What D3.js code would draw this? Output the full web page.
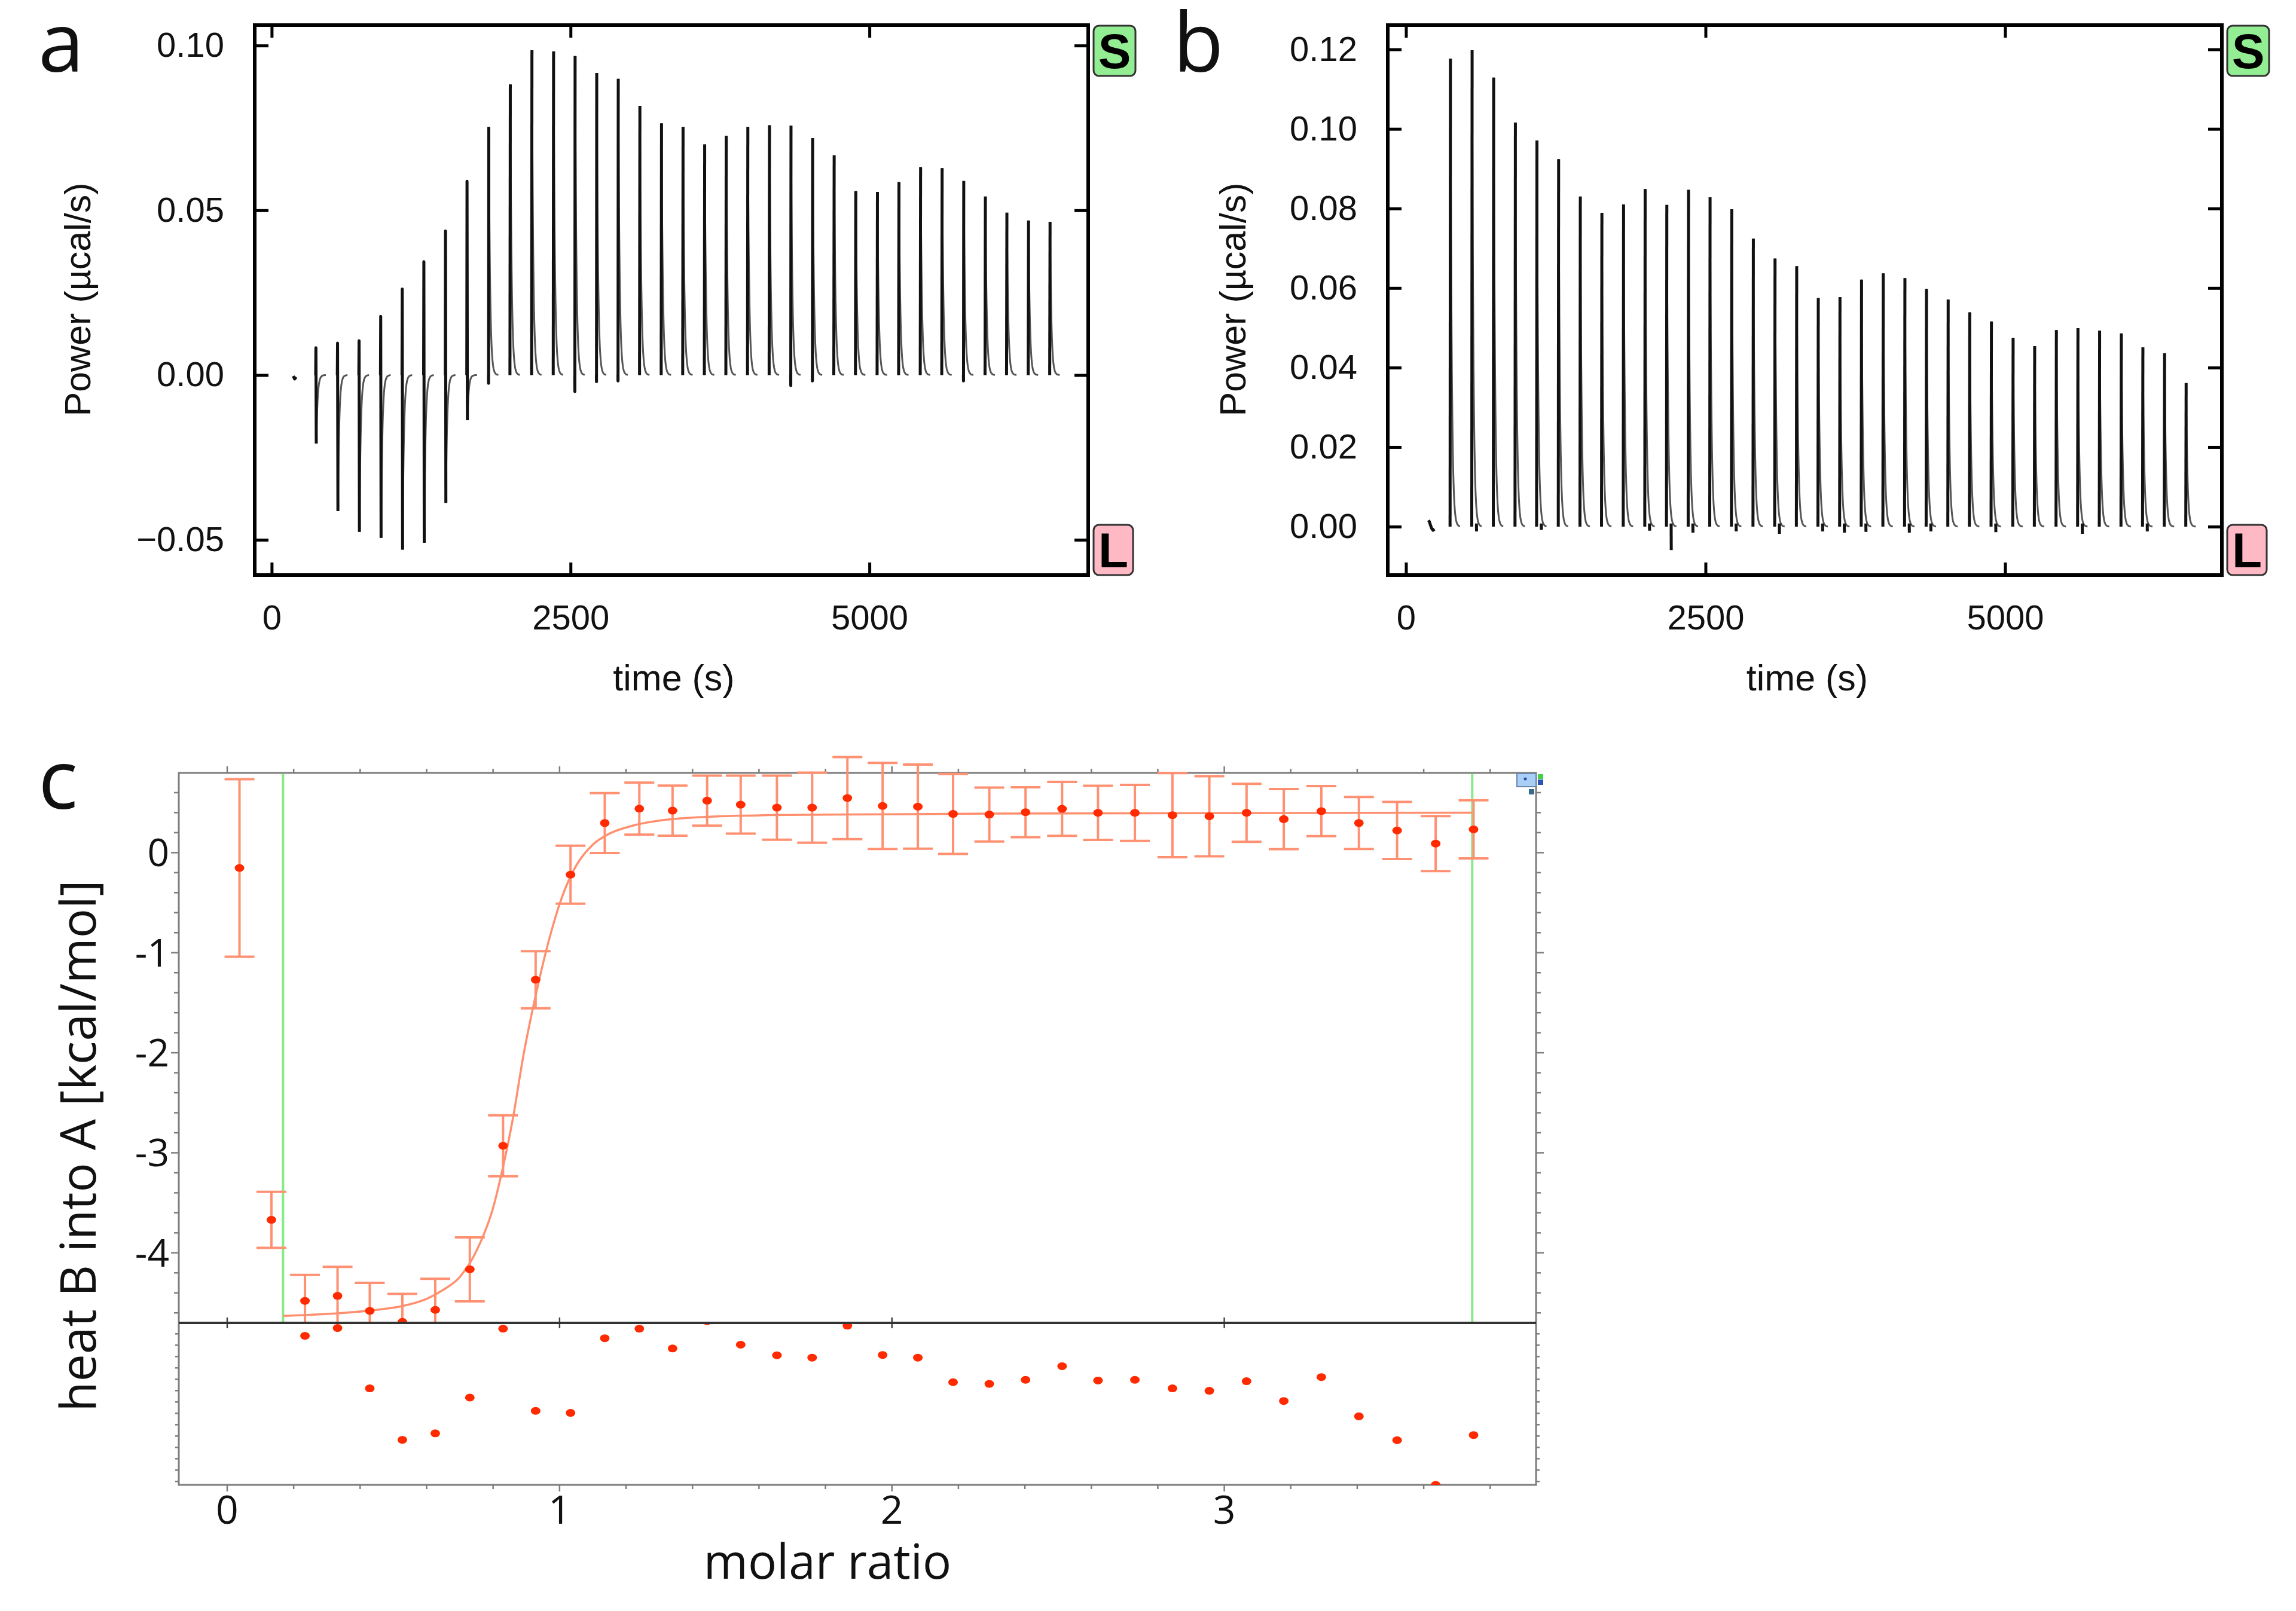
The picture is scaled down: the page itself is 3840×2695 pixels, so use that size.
<!DOCTYPE html>
<html><head><meta charset="utf-8">
<script src="https://cdn.jsdelivr.net/npm/d3@7"></script>
<style>body{margin:0;background:#fff}svg{display:block}</style>
</head><body>
<script>
// ---------------- DATA ----------------
// injection times (s), shared by panels a and b
const injTimes = [370,551,731,912,1092,1273,1454,1634,1815,1995,2176,2357,2537,2718,2898,3079,3260,3440,3621,3801,3982,4163,4343,4524,4704,4885,5066,5246,5427,5607,5788,5969,6149,6330,6510];
// panel a: peak maxima and minima (µcal/s)
const peakA = [0.0083,0.0097,0.0104,0.0178,0.0261,0.0344,0.0437,0.0588,0.0753,0.0882,0.0986,0.0982,0.0968,0.0917,0.0899,0.0817,0.0764,0.0753,0.0700,0.0726,0.0753,0.0758,0.0757,0.0719,0.0667,0.0558,0.0556,0.0586,0.0631,0.0628,0.0589,0.0542,0.0493,0.0469,0.0465];
const troughA = [-0.0208,-0.0413,-0.0476,-0.0494,-0.0530,-0.0509,-0.0388,-0.0137,-0.0025,0,0,0,-0.0050,-0.0020,-0.0018,0,0,0,0,0,0,0,-0.0032,-0.0018,0,0,0,0,0,0,-0.0018,0,0,0,0];
const preA = [[180,-0.0003],[192,-0.0012],[205,-0.0006]];
// panel b
const peakB = [0.1177,0.1198,0.1129,0.1016,0.0971,0.0924,0.0830,0.0789,0.0810,0.0849,0.0809,0.0847,0.0828,0.0798,0.0724,0.0674,0.0655,0.0575,0.0577,0.0621,0.0637,0.0625,0.0598,0.0571,0.0539,0.0516,0.0475,0.0454,0.0494,0.0499,0.0493,0.0486,0.0451,0.0436,0.0361];
const dipB = [0,-0.0012,0,0,-0.0008,0,0,0,0,-0.0010,-0.0059,-0.0015,0,-0.0012,0,-0.0018,0,-0.0012,-0.0015,-0.0013,0,-0.0015,-0.0012,0,0,-0.0014,0,0,0,-0.0018,0,0,-0.0012,0,0];
const preB = [[188,0.0016],[196,0.0012],[204,0.0004],[214,-0.0004],[226,-0.0009],[238,-0.0006]];
const tsXTicks = [0,2500,5000];
const yTicksA = [-0.05,0,0.05,0.10];
const yTicksB = [0,0.02,0.04,0.06,0.08,0.10,0.12];

// panel c
const molar = [0.037,0.133,0.234,0.332,0.429,0.527,0.626,0.730,0.830,0.928,1.033,1.136,1.240,1.340,1.444,1.545,1.654,1.760,1.866,1.972,2.078,2.184,2.293,2.402,2.512,2.620,2.731,2.844,2.955,3.067,3.179,3.292,3.405,3.520,3.636,3.750];
const heat = [-0.153,-3.67,-4.48,-4.43,-4.58,-4.69,-4.57,-4.165,-2.93,-1.27,-0.22,0.296,0.44,0.42,0.52,0.48,0.45,0.45,0.546,0.467,0.46,0.387,0.381,0.404,0.438,0.398,0.398,0.375,0.364,0.398,0.335,0.415,0.296,0.222,0.091,0.233];
const heatErr = [0.887,0.28,0.26,0.29,0.28,0.28,0.31,0.32,0.305,0.285,0.29,0.30,0.26,0.25,0.25,0.29,0.32,0.35,0.41,0.43,0.42,0.40,0.27,0.25,0.27,0.27,0.28,0.42,0.40,0.29,0.30,0.25,0.26,0.285,0.275,0.29];
const resid = [null,null,0.127,0.150,-0.027,-0.178,-0.159,-0.054,0.148,-0.093,-0.099,0.120,0.148,0.090,0.170,0.101,0.070,0.063,0.157,0.071,0.063,-0.009,-0.014,-0.002,0.038,-0.004,-0.002,-0.027,-0.034,-0.006,-0.064,0.006,-0.109,-0.179,-0.310,-0.164];
const fitX = [0.168,0.25,0.35,0.45,0.53,0.60,0.65,0.70,0.75,0.80,0.83,0.86,0.89,0.93,0.97,1.01,1.05,1.10,1.15,1.22,1.30,1.40,1.55,1.80,2.30,3.00,3.746];
const fitY = [-4.63,-4.62,-4.60,-4.57,-4.53,-4.46,-4.37,-4.24,-3.98,-3.55,-3.14,-2.65,-2.05,-1.40,-0.85,-0.42,-0.13,0.08,0.19,0.27,0.32,0.35,0.37,0.38,0.39,0.395,0.40];
const fitRange = [0.168,3.746];
const cXTicks = [0,1,2,3];
const cYTicks = [0,-1,-2,-3,-4];

// ---------------- DRAW ----------------
const W=3840,H=2695;
const svg=d3.select('body').append('svg').attr('width',W).attr('height',H).style('background','#fff');
const ARIAL='"Liberation Sans", Arial, sans-serif';
const MYR='"Open Sans", "Noto Sans", sans-serif';

function spikeShape(t,pk,tr){
  const core=[[t-2,0]]; let t0,v0;
  if(tr < -0.008){ core.push([t,pk],[t+3,tr]); t0=t+3; v0=tr; }
  else { if(tr<0) core.push([t-1,tr]); core.push([t+1,pk]); t0=t+1; v0=pk; }
  const tail=[[t0,v0]];
  for(let s=2;s<=80;s+=2) tail.push([t0+s, v0*Math.exp(-s/11)]);
  return {core,tail,t0};
}

function tsPanel(o){
  const g=svg.append('g');
  const x=o.x,y=o.y;
  const [x0,x1]=x.range(), [y0,y1]=y.range(); // y0 bottom, y1 top
  const line=d3.line().x(d=>x(d[0])).y(d=>y(d[1]));
  // traces
  const tg=g.append('g');
  tg.append('path').attr('d',line(o.pre)).attr('fill','none').attr('stroke','#111').attr('stroke-width',5).attr('stroke-linejoin','round');
  injTimes.forEach((t,i)=>{
    const s=spikeShape(t,o.peak[i],o.trough? o.trough[i]:0);
    tg.append('path').attr('d',line(s.tail)).attr('fill','none').attr('stroke','#555').attr('stroke-width',3);
    tg.append('path').attr('d',line(s.core)).attr('fill','none').attr('stroke','#111').attr('stroke-width',5).attr('stroke-linejoin','round');
    if(o.dip && o.dip[i]<0){
      tg.append('path').attr('d',line([[s.t0+36,0.0008],[s.t0+37,o.dip[i]]])).attr('fill','none').attr('stroke','#111').attr('stroke-width',5);
    }
  });
  // axes (inward ticks on all sides)
  const fmt=d=>d3.format('.2f')(d).replace('-','\u2212');
  const styleAx=a=>{a.attr('font-size',58).attr('font-family',ARIAL);a.select('.domain').remove();a.selectAll('line').attr('stroke','#000').attr('stroke-width',5);a.selectAll('text').attr('fill','#111');};
  g.append('g').attr('transform',`translate(0,${y0})`).call(d3.axisBottom(x).tickValues(tsXTicks).tickSize(-21).tickPadding(50).tickFormat(d3.format('d'))).call(styleAx);
  g.append('g').attr('transform',`translate(0,${y1})`).call(d3.axisTop(x).tickValues(tsXTicks).tickSize(-21).tickFormat('')).call(styleAx);
  g.append('g').attr('transform',`translate(${x0},0)`).call(d3.axisLeft(y).tickValues(o.yTicks).tickSize(-23).tickPadding(51).tickFormat(fmt)).call(styleAx);
  g.append('g').attr('transform',`translate(${x1},0)`).call(d3.axisRight(y).tickValues(o.yTicks).tickSize(-23).tickFormat('')).call(styleAx);
  g.append('rect').attr('x',x0).attr('y',y1).attr('width',x1-x0).attr('height',y0-y1).attr('fill','none').attr('stroke','#000').attr('stroke-width',6);
  // labels
  g.append('text').attr('x',(x0+x1)/2+4).attr('y',1155).attr('text-anchor','middle').attr('font-family',ARIAL).attr('font-size',61).attr('fill','#111').text('time (s)');
  g.append('text').attr('transform',`translate(${o.ylabX},501) rotate(-90)`).attr('text-anchor','middle').attr('font-family',ARIAL).attr('font-size',61).attr('fill','#111').text('Power (\u00b5cal/s)');
  // badges
  const badge=(yy,h,w,fill,txt)=>{
    g.append('rect').attr('x',x1+9).attr('y',yy).attr('width',w).attr('height',h).attr('rx',9).attr('fill',fill).attr('stroke','#333').attr('stroke-width',3);
    g.append('text').attr('x',x1+9+w/2).attr('y',yy+h/2+29).attr('text-anchor','middle').attr('font-family',ARIAL).attr('font-weight','bold').attr('font-size',82).attr('fill','#000').text(txt);
  };
  badge(y1+1,84,70,'#93ee93','S');
  badge(y0-84,84,66,'#ffb9c4','L');
  // panel letter
  svg.append('text').attr('x',o.letterX).attr('y',120).attr('font-family',MYR).attr('font-size',138).attr('fill','#111').text(o.letter);
}

tsPanel({x:d3.scaleLinear().domain([-142,6830]).range([426,1820]),
         y:d3.scaleLinear().domain([-0.0607,0.1062]).range([962,42]),
         peak:peakA,trough:troughA,pre:preA,yTicks:yTicksA,ylabX:151,letter:'a',letterX:64});
tsPanel({x:d3.scaleLinear().domain([-152,6809]).range([2321,3716]),
         y:d3.scaleLinear().domain([-0.01217,0.1261]).range([962,42]),
         peak:peakB,dip:dipB,pre:preB,yTicks:yTicksB,ylabX:2083,letter:'b',letterX:1962});

// ---------- panel c ----------
const xc=d3.scaleLinear().domain([-0.1457,3.938]).range([299,2569]);
const yc=d3.scaleLinear().domain([-4.70,0.797]).range([2213,1293]);
const rc=d3.scaleLinear().domain([-0.31,0.165]).range([2484,2213]);
const cg=svg.append('g');
const defs=svg.append('defs');
defs.append('clipPath').attr('id','clipUp').append('rect').attr('x',0).attr('y',0).attr('width',W).attr('height',2213);
defs.append('clipPath').attr('id','clipLo').append('rect').attr('x',299).attr('y',2213).attr('width',2270).attr('height',271);
const GR='#7d7d7d';
// frame
cg.append('rect').attr('x',299).attr('y',1293).attr('width',2270).attr('height',2484-1293).attr('fill','none').attr('stroke',GR).attr('stroke-width',3);
// ticks
const minorX=d3.range(0,3.81,0.2);
const tk=cg.append('g').attr('stroke',GR).attr('stroke-width',2.5);
minorX.forEach(v=>{
  const X=xc(v), maj=Math.abs(v-Math.round(v))<1e-6;
  const L=maj?11:7;
  tk.append('line').attr('x1',X).attr('x2',X).attr('y1',1293).attr('y2',1293-L);
  tk.append('line').attr('x1',X).attr('x2',X).attr('y1',2484).attr('y2',2484+L);
  if(maj){tk.append('line').attr('x1',X).attr('x2',X).attr('y1',2213-9).attr('y2',2213+9).attr('stroke','#444');}
});
d3.range(-4.6,0.79,0.2).forEach(v=>{
  const Y=yc(v), maj=Math.abs(v-Math.round(v))<1e-6;
  const L=maj?13:8;
  tk.append('line').attr('x1',299).attr('x2',299-L).attr('y1',Y).attr('y2',Y);
  tk.append('line').attr('x1',2569).attr('x2',2569+L).attr('y1',Y).attr('y2',Y);
});
d3.range(-0.3,0.16,0.0333).forEach(v=>{
  const Y=rc(v);
  tk.append('line').attr('x1',299).attr('x2',293).attr('y1',Y).attr('y2',Y);
  tk.append('line').attr('x1',2569).attr('x2',2575).attr('y1',Y).attr('y2',Y);
});
// tick labels
cg.append('g').selectAll('text').data(cXTicks).join('text').attr('x',d=>xc(d)).attr('y',2549).attr('text-anchor','middle')
  .attr('font-family',MYR).attr('font-size',66).attr('fill','#111').text(d=>d);
cg.append('g').selectAll('text').data(cYTicks).join('text').attr('x',283).attr('y',d=>yc(d)+23).attr('text-anchor','end')
  .attr('font-family',MYR).attr('font-size',64).attr('fill','#111').text(d=>d===0?'0':'-'+Math.abs(d));
// green fit-range lines
cg.append('g').selectAll('line').data(fitRange).join('line').attr('x1',d=>xc(d)).attr('x2',d=>xc(d)).attr('y1',1294).attr('y2',2213)
  .attr('stroke','#86ec86').attr('stroke-width',4);
// fit curve
const up=cg.append('g').attr('clip-path','url(#clipUp)');
up.append('path').datum(fitX.map((v,i)=>[v,fitY[i]])).attr('d',d3.line().x(d=>xc(d[0])).y(d=>yc(d[1])).curve(d3.curveMonotoneX))
  .attr('fill','none').attr('stroke','#ff8f6e').attr('stroke-width',3.5);
// error bars
const EB='#ff9173';
const eb=up.append('g').attr('stroke',EB).attr('stroke-width',4);
molar.forEach((m,i)=>{
  const X=xc(m), yt=yc(heat[i]+heatErr[i]), yb=yc(heat[i]-heatErr[i]);
  eb.append('line').attr('x1',X).attr('x2',X).attr('y1',yt).attr('y2',yb);
  eb.append('line').attr('x1',X-25).attr('x2',X+25).attr('y1',yt).attr('y2',yt);
  eb.append('line').attr('x1',X-25).attr('x2',X+25).attr('y1',yb).attr('y2',yb);
});
up.append('g').selectAll('ellipse').data(molar).join('ellipse').attr('cx',d=>xc(d)).attr('cy',(d,i)=>yc(heat[i])).attr('rx',8).attr('ry',6.5).attr('fill','#ff2a00');
// residuals
const lo=cg.append('g').attr('clip-path','url(#clipLo)');
lo.selectAll('ellipse').data(molar.map((m,i)=>[m,resid[i]]).filter(d=>d[1]!==null)).join('ellipse')
  .attr('cx',d=>xc(d[0])).attr('cy',d=>rc(d[1])).attr('rx',8).attr('ry',6.5).attr('fill','#ff2a00');
// divider
cg.append('line').attr('x1',299).attr('x2',2569).attr('y1',2213).attr('y2',2213).attr('stroke','#333').attr('stroke-width',4);
// small corner widget
cg.append('rect').attr('x',2537).attr('y',1294).attr('width',32).attr('height',22).attr('fill','#a9cff6').attr('stroke','#6a86aa').attr('stroke-width',2);
cg.append('circle').attr('cx',2551).attr('cy',1303).attr('r',2.5).attr('fill','#2a4aa0');
cg.append('rect').attr('x',2572).attr('y',1295).attr('width',9).attr('height',8).attr('fill','#44d044');
cg.append('rect').attr('x',2572).attr('y',1304).attr('width',9).attr('height',9).attr('fill','#2a55b5');
cg.append('rect').attr('x',2557).attr('y',1320).attr('width',9).attr('height',9).attr('fill','#3a6a8a');
// labels
cg.append('text').attr('x',1384).attr('y',2641).attr('text-anchor','middle').attr('font-family',MYR).attr('font-size',80).attr('fill','#111').text('molar ratio');
cg.append('text').attr('transform','translate(160,1917) rotate(-90)').attr('text-anchor','middle').attr('font-family',MYR).attr('font-size',82).attr('fill','#111').text('heat B into A [kcal/mol]');
svg.append('text').attr('x',64).attr('y',1353).attr('font-family',MYR).attr('font-size',138).attr('fill','#111').text('c');
</script>
</body></html>
